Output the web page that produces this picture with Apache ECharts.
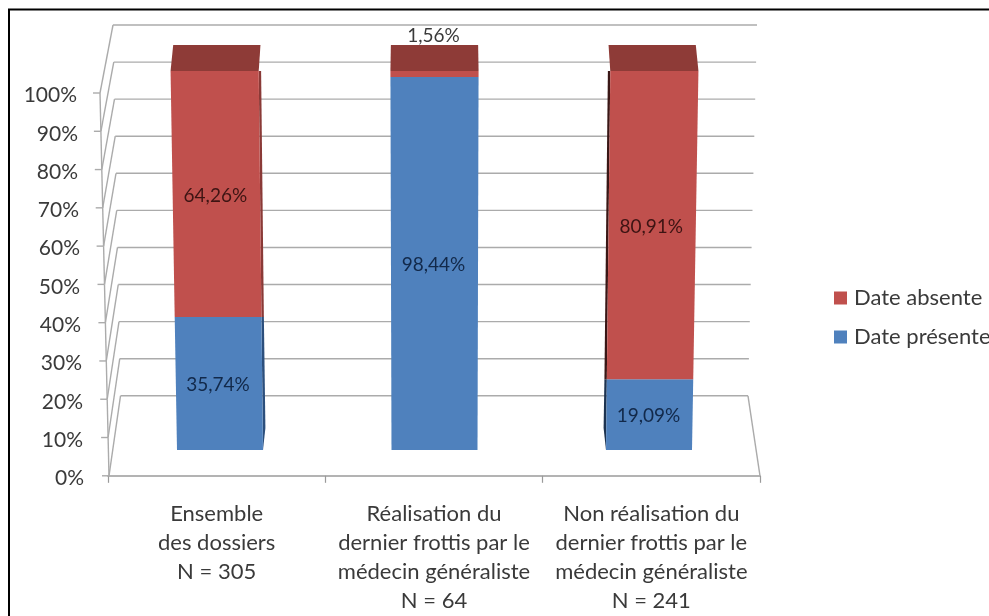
<!DOCTYPE html>
<html>
<head>
<meta charset="utf-8">
<style>html,body{margin:0;padding:0;background:#fff;overflow:hidden}#c{width:989px;height:616px}</style>
<script src="https://cdn.jsdelivr.net/npm/echarts@6/dist/echarts.min.js"></script>
</head>
<body>
<div id="c"></div>
<script>
const categories = [
  'Ensemble\ndes dossiers\nN = 305',
  'Réalisation du\ndernier frottis par le\nmédecin généraliste\nN = 64',
  'Non réalisation du\ndernier frottis par le\nmédecin généraliste\nN = 241'
];
const datePresente = [35.74, 98.44, 19.09];
const dateAbsente = [64.26, 1.56, 80.91];
const yTicks = [0, 10, 20, 30, 40, 50, 60, 70, 80, 90, 100];
const seriesNames = ['Date absente', 'Date présente'];

const FONT = 'Lato, "Open Sans", sans-serif';
const TEXT = '#3a3a3a';
const WALL = '#ababab';
const RED = '#c0504d', BLUE = '#4f81bd', TOP = '#8e3b37';
const SIDE_RED = ['#8a3a37', null, '#3a1716'];
const SIDE_BLUE = ['#2c4f7c', null, '#1d3350'];

const chart = echarts.init(document.getElementById('c'), null, {renderer: 'canvas'});

const frontX = v => 109 - 9 * v / 100;
const backL = v => 120.5 - 7.5 * v / 100;
const backR = v => 757 - 9 * (1 - v / 100);
const backY = yf => 396 - (476 - yf) * 371 / 383;

function renderWall(params, api) {
  const v = api.value(1);
  const yf = api.coord([0, v])[1];
  const yb = backY(yf);
  const ls = {stroke: WALL, lineWidth: 1.4, fill: null};
  const line = (a, b) => ({type: 'line', shape: {x1: a[0], y1: a[1], x2: b[0], y2: b[1]}, style: ls, silent: true});
  const kids = [
    line([frontX(v) - 7, yf], [frontX(v), yf]),
    line([frontX(v), yf], [backL(v), yb]),
    line([backL(v), yb], [backR(v), yb])
  ];
  if (v > 0) {
    const p = v - 10;
    kids.push(line([frontX(v), yf], [frontX(p), api.coord([0, p])[1]]));
  } else {
    const last = api.coord([2, 0])[0], prev = api.coord([1, 0])[0];
    kids.push(line([backR(0), yb], [last + (last - prev) / 2, yf]));
  }
  return {type: 'group', children: kids};
}

function renderStack(isTop) {
  return function (params, api) {
    const i = api.value(0);
    const val = api.value(1);
    const v0 = isTop ? datePresente[i] : 0;
    const v1 = isTop ? 100 : val;
    const cx = api.coord([i, 0])[0];
    const mid = api.coord([1, 0])[0];
    const half = 43;
    const px = (dx, v) => mid + (cx + dx - mid) * (1 + 0.025 * v / 100);
    // slight vertical foreshortening of the 3D view
    const py = v => api.coord([i, v])[1] + 11 * (v / 100) * (1 - v / 100);
    const y0 = py(v0), y1 = py(v1);
    const fill = isTop ? RED : BLUE;
    const kids = [];
    const sideCol = (isTop ? SIDE_RED : SIDE_BLUE)[i];
    if (sideCol) {
      const sgn = i < 1 ? 1 : -1;
      const e = sgn * half;
      const w = sgn * 2.4;
      kids.push({type: 'polygon', silent: true, style: {fill: sideCol}, shape: {points: [
        [px(e, v0), y0], [px(e, v1), y1], [px(e, v1) + w, y1],
        [px(e, v0) + w, v0 === 0 ? y0 - 22 : y0]
      ]}});
    }
    kids.push({type: 'polygon', silent: true, style: {fill}, shape: {points: [
      [px(-half, v0), y0], [px(half, v0), y0], [px(half, v1), y1], [px(-half, v1), y1]
    ]}});
    if (isTop) {
      const back = x => mid + (x - mid) * 0.99;
      kids.push({type: 'polygon', silent: true, style: {fill: TOP}, shape: {points: [
        [px(-half, 100), y1], [px(half, 100), y1],
        [back(px(half, 100)), y1 - 26], [back(px(-half, 100)), y1 - 26]
      ]}});
    }
    const small = val < 5;
    kids.push({type: 'text', silent: true, z2: 10, style: {
      text: val.toFixed(2).replace('.', ',') + '%',
      x: px(0, (v0 + v1) / 2) - 1,
      y: small ? y1 - 35 : (y0 + y1) / 2 + 1.5,
      align: 'center', verticalAlign: 'middle',
      font: '19px ' + FONT,
      fill: small ? TEXT : (isTop ? '#3d1413' : '#12294a')
    }});
    return {type: 'group', children: kids};
  };
}

const labelRich = {};
yTicks.forEach(v => {
  labelRich['p' + v] = {fontFamily: FONT, fontSize: 21, color: TEXT, padding: [5, Math.round(7 * v / 100), 0, 0]};
});

chart.setOption({
  animation: false,
  backgroundColor: '#ffffff',
  textStyle: {fontFamily: FONT},
  graphic: [{
    type: 'rect', silent: true, z: 100,
    shape: {x: 9, y: 9.5, width: 1100, height: 800},
    style: {fill: null, stroke: '#000', lineWidth: 2}
  }],
  grid: [
    {left: 108, width: 652, top: 93, height: 383},
    {left: 112.75, width: 643.5, top: 71, height: 379}
  ],
  xAxis: [
    {
      type: 'category', gridIndex: 0, data: categories,
      axisLine: {show: true, lineStyle: {color: '#9a9a9a', width: 1.6}},
      axisTick: {show: true, alignWithLabel: false, length: 7, lineStyle: {color: '#9a9a9a', width: 1.2}},
      axisLabel: {color: TEXT, fontFamily: FONT, fontSize: 22, lineHeight: 29.3, margin: 23, interval: 0, hideOverlap: false},
      splitLine: {show: false}
    },
    {type: 'category', gridIndex: 1, data: categories, show: false}
  ],
  yAxis: [
    {
      type: 'value', gridIndex: 0, min: 0, max: 100, interval: 10,
      axisLine: {show: false}, axisTick: {show: false}, splitLine: {show: false},
      axisLabel: {margin: 24, align: 'right', formatter: v => '{p' + v + '|' + v + '%}', rich: labelRich}
    },
    {type: 'value', gridIndex: 1, min: 0, max: 100, show: false}
  ],
  legend: {
    orient: 'vertical', left: 834, top: 287, padding: 0, itemWidth: 13, itemHeight: 13, itemGap: 17,
    icon: 'rect', selectedMode: false,
    data: seriesNames,
    textStyle: {color: TEXT, fontFamily: FONT, fontSize: 22, padding: [0, 0, 0, 2]}
  },
  series: [
    {
      name: 'wall', type: 'custom', xAxisIndex: 0, yAxisIndex: 0, z: 1, silent: true,
      encode: {x: 0, y: 1},
      renderItem: renderWall,
      data: yTicks.map(v => [0, v])
    },
    {
      name: seriesNames[1], type: 'custom', xAxisIndex: 1, yAxisIndex: 1, z: 3,
      itemStyle: {color: BLUE}, encode: {x: 0, y: 1},
      renderItem: renderStack(false),
      data: datePresente.map((v, i) => [i, v])
    },
    {
      name: seriesNames[0], type: 'custom', xAxisIndex: 1, yAxisIndex: 1, z: 3,
      itemStyle: {color: RED}, encode: {x: 0, y: 1},
      renderItem: renderStack(true),
      data: dateAbsente.map((v, i) => [i, v])
    }
  ]
});
</script>
</body>
</html>
